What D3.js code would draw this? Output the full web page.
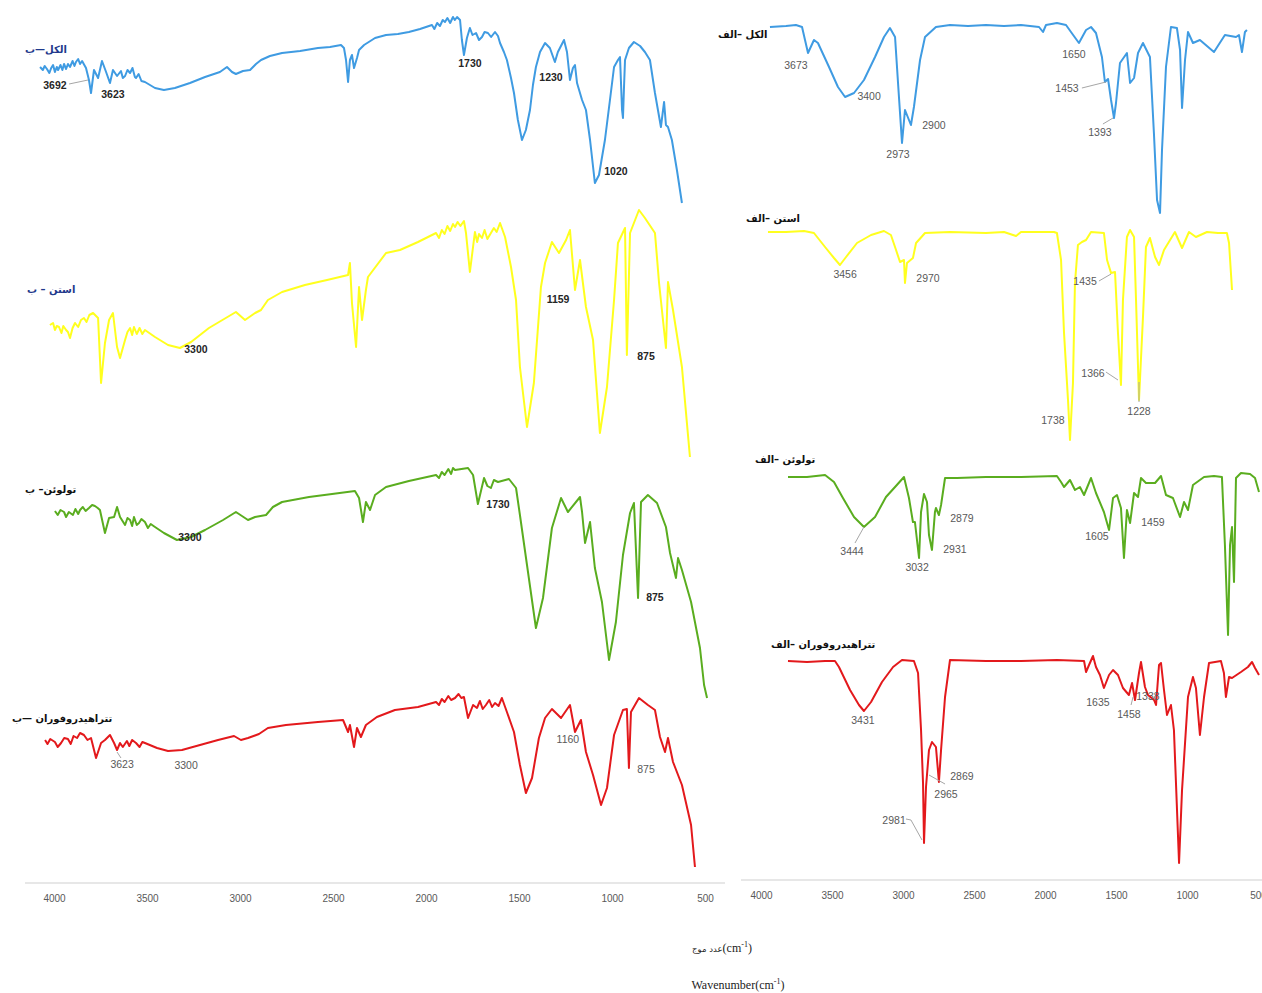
<!DOCTYPE html>
<html><head><meta charset="utf-8">
<script src="https://cdn.jsdelivr.net/npm/d3@7"></script>
<style>body{margin:0;background:#fff;}svg{display:block;}</style>
</head><body>
<svg id="chart" width="1262" height="993"></svg>
<script>
// ---------- DATA ----------
const tickValues = [4000, 3500, 3000, 2500, 2000, 1500, 1000, 500];

// [wavenumber (cm-1), relative transmittance]
const leftAlcohol = [[4075,71.5],[4060,70],[4050,72],[4038,70.5],[4025,68.5],[4015,71],[4005,72.5],[3995,69],[3985,71.5],[3978,70],[3965,72.5],[3955,70],[3946,73],[3935,70.5],[3925,73],[3914,71.5],[3900,74.5],[3890,72],[3882,74],[3870,75.5],[3860,73],[3849,74.5],[3828,71],[3812,65],[3801,58.5],[3785,70],[3763,66],[3742,74.5],[3720,69],[3699,63.5],[3683,70],[3661,67],[3640,69.5],[3630,66],[3618,67],[3605,70],[3591,68.5],[3578,71],[3565,66.5],[3559,66],[3545,68],[3530,64.5],[3511,64],[3457,61],[3409,60],[3350,61],[3269,63.5],[3188,66.5],[3108,69],[3070,71.5],[3043,69],[3022,68],[2984,69.5],[2946,70],[2914,73],[2887,75],[2839,77],[2774,78.5],[2677,79.5],[2581,81],[2516,81.5],[2457,82.5],[2441,81],[2430,75],[2419,64],[2409,75],[2398,77.5],[2387,71],[2371,76],[2360,80],[2333,82.5],[2274,86],[2215,87.5],[2151,88],[2092,89],[2032,90.5],[1968,92.5],[1955,90.5],[1940,93.5],[1925,92],[1910,95],[1898,94],[1885,96],[1870,93.5],[1855,96.5],[1845,95],[1833,96.5],[1817,95],[1807,85],[1796,77.5],[1780,86],[1764,91],[1750,87.5],[1731,88.5],[1715,85],[1699,86.5],[1685,89],[1667,88.5],[1650,86.5],[1629,89],[1613,87],[1602,83.5],[1581,79],[1565,75],[1543,66],[1527,58.5],[1506,45],[1484,35],[1463,40],[1441,50],[1425,62.5],[1409,71.5],[1387,79],[1360,83.5],[1334,81],[1307,74],[1291,79],[1258,85],[1242,79],[1226,65],[1210,71],[1199,72.5],[1188,63.5],[1161,55],[1140,50],[1118,35],[1092,13.5],[1070,17.5],[1038,35],[1011,55],[989,71.5],[968,75],[957,76.5],[946,50],[941,46],[936,60],[930,75],[909,81],[882,84],[849,82],[823,79],[796,75],[769,58.5],[753,50],[737,41.5],[720,54],[710,42.5],[699,41.5],[678,35],[651,20],[624,3.5]];

const leftAcetone = [[4022,67.5],[4005,68.5],[3995,65],[3985,67],[3973,66.5],[3960,63.5],[3950,67],[3935,65],[3925,64],[3914,61],[3900,66],[3887,68.5],[3870,66.5],[3855,70],[3839,71],[3825,69],[3810,72.5],[3790,73.5],[3763,71],[3747,38.5],[3726,58.5],[3704,70],[3683,73.5],[3661,56.5],[3645,51],[3618,60],[3605,64],[3591,66],[3580,62.5],[3570,66.5],[3555,63],[3540,66],[3525,63],[3511,65],[3457,61.5],[3387,57.5],[3323,56],[3263,59],[3167,66],[3022,74],[2973,70],[2919,73.5],[2887,75],[2850,80],[2774,84],[2651,87.5],[2532,90],[2419,92.5],[2409,98.5],[2398,78.5],[2376,56.5],[2360,86.5],[2344,70],[2323,85],[2312,91.5],[2215,103.5],[2140,105],[2043,109],[1946,113.5],[1930,111],[1915,115],[1900,113],[1885,117],[1870,114.5],[1855,118],[1844,116.5],[1830,119],[1815,117],[1796,119.5],[1785,113.5],[1764,94],[1737,114],[1725,109],[1715,113],[1699,111],[1685,115],[1670,110.5],[1651,113.5],[1635,116],[1620,114],[1602,118.5],[1575,111.5],[1543,96.5],[1516,80],[1495,46.5],[1457,16.5],[1420,38.5],[1382,86.5],[1360,98.5],[1323,109],[1285,103.5],[1247,110],[1226,115],[1199,85],[1172,100],[1140,76.5],[1102,60],[1065,13.5],[1027,36.5],[989,80],[968,108.5],[930,116],[920,52.5],[903,113.5],[855,125],[823,121],[769,113.5],[747,88.5],[710,56],[699,89],[672,75],[624,46.5],[581,1.5]];

const leftToluene = [[3995,94.5],[3980,92.5],[3965,95],[3946,94],[3935,91.5],[3920,94],[3898,92.5],[3885,95.5],[3870,93],[3860,95],[3845,96.5],[3830,94.5],[3812,96],[3795,97.5],[3780,97],[3765,96],[3753,95],[3726,83.5],[3704,91],[3677,91.5],[3661,96.5],[3645,91.5],[3618,87.5],[3605,91],[3591,90],[3580,87],[3570,91.5],[3555,87.5],[3543,88.5],[3530,90.5],[3511,89],[3495,86],[3480,88],[3457,86.5],[3409,83.5],[3339,80],[3263,81.5],[3188,85],[3091,90],[3022,94],[2957,90],[2919,91.5],[2860,92.5],[2823,96.5],[2774,99],[2629,101.5],[2505,103],[2382,104.5],[2360,101],[2339,89],[2323,99],[2301,95],[2274,102.5],[2215,106.5],[2092,109.5],[1946,112.5],[1930,111],[1915,114],[1900,112.5],[1880,115.5],[1865,113],[1855,116],[1844,115],[1774,116],[1747,112.5],[1721,98],[1688,111],[1670,107],[1651,106],[1635,110],[1613,109],[1554,110.5],[1516,106],[1495,92.5],[1457,67.5],[1409,36],[1371,51],[1323,86],[1274,101],[1237,94],[1172,101.5],[1161,94],[1145,78.5],[1118,89],[1092,66],[1054,49],[1016,20],[979,39],[941,72.5],[903,93.5],[882,98.5],[860,51],[844,99],[807,102.5],[758,98.5],[710,86.5],[688,73.5],[656,61],[645,71],[624,65],[575,49],[527,26],[505,7.5],[489,1]];

const leftTHF = [[4048,65],[4035,63],[4020,65.5],[3995,64],[3980,61.5],[3962,63.5],[3945,66],[3925,65.5],[3910,63],[3895,67],[3876,66],[3860,68.5],[3839,67.5],[3820,65],[3801,66],[3774,56],[3747,63.5],[3726,65],[3699,67.5],[3677,63.5],[3661,60],[3645,63.5],[3630,61.5],[3608,64.5],[3595,62],[3580,65],[3559,63.5],[3540,61.5],[3525,64],[3511,63.5],[3446,61],[3387,59.5],[3312,60],[3215,62.5],[3118,65],[3032,67],[2995,65],[2957,66],[2898,68],[2850,71],[2753,72.5],[2581,74],[2446,75],[2419,69],[2409,72.5],[2387,61.5],[2371,71],[2350,66.5],[2323,72.5],[2264,76.5],[2167,80],[2043,81.5],[1946,84],[1930,82.5],[1915,85.5],[1900,84],[1880,87],[1865,85],[1844,86],[1825,88],[1810,86],[1796,86.5],[1774,76],[1747,82.5],[1726,81],[1710,84.5],[1695,80.5],[1678,82.5],[1660,85],[1645,81.5],[1629,83.5],[1610,82],[1592,86],[1565,79],[1527,69],[1495,52.5],[1463,38.5],[1430,46],[1393,66],[1360,76],[1323,80.5],[1274,76],[1226,82.5],[1199,69],[1167,75],[1140,59],[1102,47.5],[1059,32.5],[1027,41],[989,67.5],[941,80],[920,80.5],[909,51],[898,79],[855,86],[807,82.5],[769,80],[742,66.5],[715,59],[699,66],[672,54],[624,42.5],[575,22.5],[554,1.5]];

const rightAlcohol = [[3937,94],[3824,94.5],[3754,95],[3711,94],[3690,87.5],[3669,81],[3627,87.5],[3599,86],[3521,74],[3458,64],[3408,59],[3345,61],[3275,67.5],[3197,79],[3134,89],[3092,93.5],[3056,89],[3035,66],[3007,36],[2986,52.5],[2944,45],[2923,54],[2880,77.5],[2845,89],[2768,94],[2669,95],[2542,94.5],[2416,95],[2289,94.5],[2169,95],[2042,94],[2014,91.5],[1993,95],[1916,96],[1852,95],[1817,91.5],[1761,86],[1711,92.5],[1676,94],[1641,91],[1599,79],[1578,66.5],[1556,68],[1535,57.5],[1514,48.5],[1500,56],[1472,76],[1423,81],[1401,66],[1373,68.5],[1345,81],[1310,86],[1261,79],[1233,41],[1211,7.5],[1190,1],[1176,32.5],[1148,74],[1113,94],[1071,93.5],[1049,82.5],[1035,53.5],[1014,77.5],[993,91.5],[958,86],[909,87.5],[810,81.5],[733,90],[655,89],[634,90],[613,81.5],[592,91.5],[578,92.5]];

const rightAcetone = [[3951,104],[3824,104],[3697,104.5],[3627,103.5],[3549,96.5],[3486,91],[3444,87.5],[3401,91.5],[3324,98.5],[3225,102.5],[3134,104.5],[3085,102.5],[3049,95],[3021,89],[2993,90],[2986,78.5],[2972,88.5],[2930,91],[2908,98.5],[2845,103.5],[2669,104],[2416,103.5],[2289,104],[2204,102],[2169,104],[1937,104],[1916,103.5],[1887,90],[1866,53.5],[1838,20],[1824,0],[1803,28.5],[1789,78.5],[1768,97.5],[1740,99],[1711,100],[1676,104],[1585,103.5],[1563,90],[1535,83.5],[1507,84],[1486,53.5],[1465,27.5],[1451,70],[1423,101.5],[1401,105],[1373,101.5],[1359,70],[1338,20],[1310,61.5],[1289,96.5],[1261,101],[1225,91.5],[1197,87.5],[1162,95],[1085,104],[1035,96],[986,104],[937,101.5],[859,104],[782,103.5],[719,103.5],[704,98.5],[683,75]];

const rightToluene = [[3810,81.5],[3676,81.5],[3549,82.5],[3486,79],[3423,71],[3345,61.5],[3275,56.5],[3197,61.5],[3120,71.5],[3056,76.5],[2993,81.5],[2958,71],[2930,59],[2916,59],[2887,41],[2873,64],[2852,73],[2831,69],[2817,52.5],[2796,45],[2775,64],[2768,66],[2747,62.5],[2732,67.5],[2704,81],[2620,81],[2416,81.5],[2169,81.5],[1916,82],[1887,79],[1866,76.5],[1824,80],[1789,75],[1754,76.5],[1725,72.5],[1676,81],[1641,73.5],[1585,64],[1549,55],[1521,71],[1493,72.5],[1465,66],[1444,41],[1423,65],[1401,58.5],[1373,73.5],[1345,71.5],[1324,81],[1289,78.5],[1225,78.5],[1183,82],[1148,72.5],[1099,71],[1049,61.5],[1021,69],[993,65],[958,77.5],[880,81.5],[810,82],[754,81.5],[733,47.5],[711,2.5],[697,47.5],[683,56.5],[669,29],[655,81],[620,83.5],[556,83],[521,81],[493,74]];

const rightTHF = [[3810,104.5],[3676,104],[3549,104.5],[3479,104.5],[3451,101.5],[3373,90],[3310,82.5],[3275,79.5],[3225,84],[3148,94],[3070,101.5],[3007,105],[2923,104.5],[2894,98.5],[2873,70],[2859,43.5],[2852,13.5],[2838,41.5],[2817,60],[2796,64],[2768,61.5],[2747,44],[2732,60],[2704,86.5],[2669,105],[2416,104.5],[2169,104.5],[1916,105],[1725,104.5],[1711,99],[1690,102.5],[1662,107],[1641,101.5],[1613,97.5],[1585,91],[1549,97.5],[1521,100],[1486,97.5],[1451,91],[1409,87.5],[1387,93.5],[1366,85],[1338,98.5],[1324,104],[1296,91.5],[1275,87.5],[1232,85],[1218,82.5],[1197,102.5],[1183,103.5],[1162,90],[1141,77.5],[1113,82.5],[1092,70],[1056,3.5],[1035,40],[993,86.5],[958,96.5],[937,91],[909,67.5],[880,86.5],[845,103.5],[761,104.5],[740,98.5],[726,86.5],[704,96.5],[683,96],[620,99],[571,101.5],[542,104],[521,101],[493,97.5]];

// peak labels: [text, wavenumber, transmittance]
const leftAlcoholLabels = [["3692",3995,62.5],["3623",3683,58],["1730",1764,73.5],["1230",1328,66.5],["1020",979,19.5]];
const leftAcetoneLabels = [["3300",3237,55.5],["1159",1290,80.5],["875",817,52]];
const leftTolueneLabels = [["3300",3269,81.5],["1730",1613,98],["875",769,51.5]];
const leftTHFLabels = [["3623",3634,53],["3300",3290,52.5],["1160",1237,65.5],["875",817,50.5]];
const rightAlcoholLabels = [["3673",3754,75],["3400",3239,59.5],["2973",3035,30.5],["2900",2782,45],["1650",1796,80.5],["1453",1845,63.5],["1393",1613,41.5]];
const rightAcetoneLabels = [["3456",3408,83],["2970",2824,81],["1435",1718,79.5],["1366",1662,33.5],["1738",1944,10],["1228",1338,14.5]];
const rightTolueneLabels = [["3444",3359,44.5],["3032",2901,36.5],["2931",2634,45.5],["2879",2585,61],["1605",1634,52],["1459",1240,59]];
const rightTHFLabels = [["3431",3282,75],["2981",3063,25],["2965",2697,38],["2869",2585,47],["1635",1627,84],["1458",1409,78],["1338",1275,87]];

// leader lines: lists of [wavenumber, transmittance] points
const leftAlcoholLeaders = [[[3919,63],[3817,65]]];
const leftTHFLeaders = [[[3661,59],[3640,56]]];
const rightAlcoholLeaders = [[[1740,63.5],[1571,66.5]],[[1592,45.5],[1521,48.5]]];
const rightAcetoneLeaders = [[[1620,79.5],[1535,83]],[[1571,34],[1486,30]],[[1338,19],[1338,29]]];
const rightTolueneLeaders = [[[3338,48.5],[3275,56.5]]];
const rightTHFLeaders = [[[2979,25.5],[2944,25],[2866,15]],[[2817,47.5],[2704,43]],[[1394,82.5],[1380,86.5]]];

const titles = ["الکل—ب", "استن – ب", "تولوئن– ب", "تتراهیدروفوران —ب",
                "الکل –الف", "استن –الف", "تولوئن –الف", "تتراهیدروفوران –الف"];

// ---------- LAYOUT ----------
const svg = d3.select("#chart");
const xLeft = d3.scaleLinear().domain([4000, 500]).range([54, 705]);
const xRight = d3.scaleLinear().domain([4000, 500]).range([761, 1258]);

const colors = {blue:"#3f9be2", yellow:"#ffff1e", green:"#5aad1f", red:"#e3191c"};

const spectra = [
  {data:leftAlcohol, x:xLeft, bottom:210, color:colors.blue, labels:leftAlcoholLabels, leaders:leftAlcoholLeaders, bold:true, title:titles[0], tx:25, ty:53, tcol:"#1f3a8c"},
  {data:leftAcetone, x:xLeft, bottom:460, color:colors.yellow, labels:leftAcetoneLabels, leaders:[], bold:true, title:titles[1], tx:27, ty:293, tcol:"#1f3a8c"},
  {data:leftToluene, x:xLeft, bottom:700, color:colors.green, labels:leftTolueneLabels, leaders:[], bold:true, title:titles[2], tx:25, ty:493, tcol:"#111"},
  {data:leftTHF, x:xLeft, bottom:870, color:colors.red, labels:leftTHFLabels, leaders:leftTHFLeaders, bold:false, title:titles[3], tx:12, ty:722, tcol:"#111"},
  {data:rightAlcohol, x:xRight, bottom:215, color:colors.blue, labels:rightAlcoholLabels, leaders:rightAlcoholLeaders, bold:false, title:titles[4], tx:718, ty:38, tcol:"#111"},
  {data:rightAcetone, x:xRight, bottom:440, color:colors.yellow, labels:rightAcetoneLabels, leaders:rightAcetoneLeaders, bold:false, title:titles[5], tx:746, ty:222, tcol:"#111"},
  {data:rightToluene, x:xRight, bottom:640, color:colors.green, labels:rightTolueneLabels, leaders:rightTolueneLeaders, bold:false, title:titles[6], tx:755, ty:463, tcol:"#111"},
  {data:rightTHF, x:xRight, bottom:870, color:colors.red, labels:rightTHFLabels, leaders:rightTHFLeaders, bold:false, title:titles[7], tx:771, ty:648, tcol:"#111"}
];

// axes
function drawAxis(scale, y, x1, x2) {
  svg.append("line").attr("x1", x1).attr("x2", x2).attr("y1", y).attr("y2", y)
     .attr("stroke", "#d0d0d0").attr("stroke-width", 1.2);
  const g = svg.append("g").attr("transform", `translate(0,${y})`)
     .call(d3.axisBottom(scale).tickValues(tickValues).tickSize(0).tickPadding(11.5).tickFormat(d3.format("d")));
  g.select(".domain").remove();
  g.selectAll("text").attr("fill", "#595959").attr("font-family", "'Liberation Sans Narrow','Liberation Sans',Arial,sans-serif")
    .attr("font-size", 10);
}
drawAxis(xLeft, 883, 25, 725);
drawAxis(xRight, 880, 741, 1262);

spectra.forEach(s => {
  const y = d3.scaleLinear().domain([0, 100]).range([s.bottom, s.bottom - 200]);
  const line = d3.line().x(d => s.x(d[0])).y(d => y(d[1])).curve(d3.curveLinear);
  svg.append("path").datum(s.data).attr("d", line).attr("fill", "none")
     .attr("stroke", s.color).attr("stroke-width", 2).attr("stroke-linejoin", "round");
  s.leaders.forEach(ld => {
    svg.append("path").datum(ld).attr("d", line).attr("fill", "none")
       .attr("stroke", "#a6a6a6").attr("stroke-width", 1);
  });
  svg.selectAll(null).data(s.labels).enter().append("text")
     .attr("x", d => s.x(d[1])).attr("y", d => y(d[2]))
     .attr("text-anchor", "middle").attr("dominant-baseline", "central")
     .attr("font-family", "'Liberation Sans Narrow','Liberation Sans',Arial,sans-serif")
     .attr("font-size", 10.5)
     .attr("font-weight", s.bold ? "bold" : "normal")
     .attr("fill", s.bold ? "#262626" : "#595959")
     .text(d => d[0]);
  svg.append("text").attr("x", s.tx).attr("y", s.ty)
     .attr("font-family", "'DejaVu Sans',sans-serif").attr("font-weight", "bold")
     .attr("font-size", 10).attr("fill", s.tcol)
     .text(s.title);
});

// bottom axis titles
const t1 = svg.append("text").attr("x", 722).attr("y", 952).attr("text-anchor", "middle")
  .attr("font-family", "'Liberation Serif','Times New Roman',serif").attr("font-size", 12).attr("fill", "#222");
t1.append("tspan").attr("font-size", 8.5).attr("font-family", "'DejaVu Sans',sans-serif").text("عدد موج");
t1.append("tspan").text("\u200E(cm");
t1.append("tspan").attr("font-size", 8).attr("dy", -5).text("-1");
t1.append("tspan").attr("dy", 5).text(")");

const t2 = svg.append("text").attr("x", 738).attr("y", 989).attr("text-anchor", "middle")
  .attr("font-family", "'Liberation Serif','Times New Roman',serif").attr("font-size", 12).attr("fill", "#222");
t2.append("tspan").text("Wavenumber(cm");
t2.append("tspan").attr("font-size", 8).attr("dy", -5).text("-1");
t2.append("tspan").attr("dy", 5).text(")");
</script>
</body></html>
